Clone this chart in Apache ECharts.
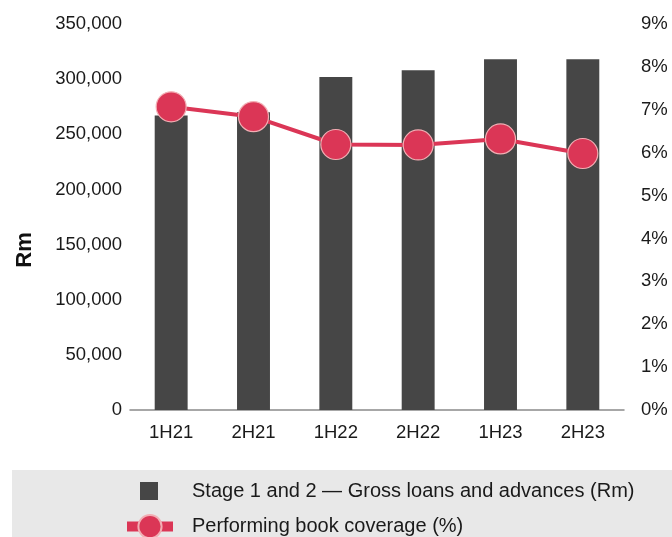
<!DOCTYPE html>
<html>
<head>
<meta charset="utf-8">
<script src="https://cdn.jsdelivr.net/npm/echarts@6/dist/echarts.min.js"></script>
<style>
  html, body { margin: 0; padding: 0; background: #ffffff; }
  #chart { width: 672px; height: 537px; }
</style>
</head>
<body>
<div id="chart"></div>
<script>
// Half-year periods
const periods = ['1H21', '2H21', '1H22', '2H22', '1H23', '2H23'];
// Stage 1 and 2 gross loans and advances, Rm
const grossLoans = [267000, 270000, 302000, 308000, 318000, 318000];
// Performing book coverage, %
const coverage = [7.07, 6.84, 6.19, 6.18, 6.32, 5.98];

const barName = 'Stage 1 and 2 \u2014 Gross loans and advances (Rm)';
const lineName = 'Performing book coverage (%)';

const FONT = '"Liberation Sans", Arial, Helvetica, sans-serif';
const BAR_COLOR = '#464646';
const LINE_COLOR = '#db3656';
const TEXT_COLOR = '#1a1a1a';

const chart = echarts.init(document.getElementById('chart'), null, { renderer: 'canvas' });

chart.setOption({
  animation: false,
  backgroundColor: '#ffffff',
  textStyle: { fontFamily: FONT },
  graphic: [{
    // legend panel
    type: 'rect',
    left: 12, top: 470, z: -10,
    shape: { width: 660, height: 70 },
    style: { fill: '#e8e8e8' }
  }, {
    // left axis title
    type: 'text',
    x: 25, y: 250,
    rotation: Math.PI / 2,
    style: {
      text: 'Rm',
      font: 'bold 22px ' + FONT,
      fill: '#111111',
      align: 'center',
      verticalAlign: 'middle'
    }
  }],
  legend: [{
    data: [{ name: barName, icon: 'rect' }],
    orient: 'vertical',
    left: 140, top: 481,
    padding: 0,
    itemWidth: 18, itemHeight: 18,
    textStyle: { fontSize: 20, color: TEXT_COLOR, fontFamily: FONT, padding: [0, 0, 0, 29] },
    selectedMode: false
  }, {
    data: [{ name: lineName }],
    orient: 'vertical',
    left: 122, top: 514,
    padding: 0,
    itemWidth: 46, itemHeight: 29,
    lineStyle: { width: 10 },
    textStyle: { fontSize: 20, color: TEXT_COLOR, fontFamily: FONT, padding: [0, 0, 0, 14] },
    selectedMode: false
  }],
  grid: { left: 130, right: 48, top: 24, bottom: 127 },
  xAxis: {
    type: 'category',
    data: periods,
    axisTick: { show: false },
    axisLine: { lineStyle: { color: '#8a8a8a', width: 1.5 } },
    axisLabel: { fontSize: 18.5, color: TEXT_COLOR, fontFamily: FONT, margin: 13 }
  },
  yAxis: [{
    type: 'value',
    min: 0, max: 350000, interval: 50000,
    splitLine: { show: false },
    axisLine: { show: false },
    axisTick: { show: false },
    axisLabel: {
      fontSize: 18.5, color: TEXT_COLOR, fontFamily: FONT, margin: 8,
      formatter: v => v.toLocaleString('en-US')
    }
  }, {
    type: 'value',
    min: 0, max: 9, interval: 1,
    position: 'right',
    splitLine: { show: false },
    axisLine: { show: false },
    axisTick: { show: false },
    axisLabel: { fontSize: 18.5, color: TEXT_COLOR, fontFamily: FONT, margin: 17, formatter: '{value}%' }
  }],
  series: [{
    name: barName,
    type: 'bar',
    data: grossLoans,
    barWidth: '40%',
    itemStyle: { color: BAR_COLOR }
  }, {
    name: lineName,
    type: 'line',
    yAxisIndex: 1,
    data: coverage,
    symbol: 'circle',
    symbolSize: 30,
    lineStyle: { color: LINE_COLOR, width: 4 },
    itemStyle: { color: LINE_COLOR, borderColor: '#f2aeb4', borderWidth: 1.2 },
    z: 5
  }]
});
</script>
</body>
</html>
